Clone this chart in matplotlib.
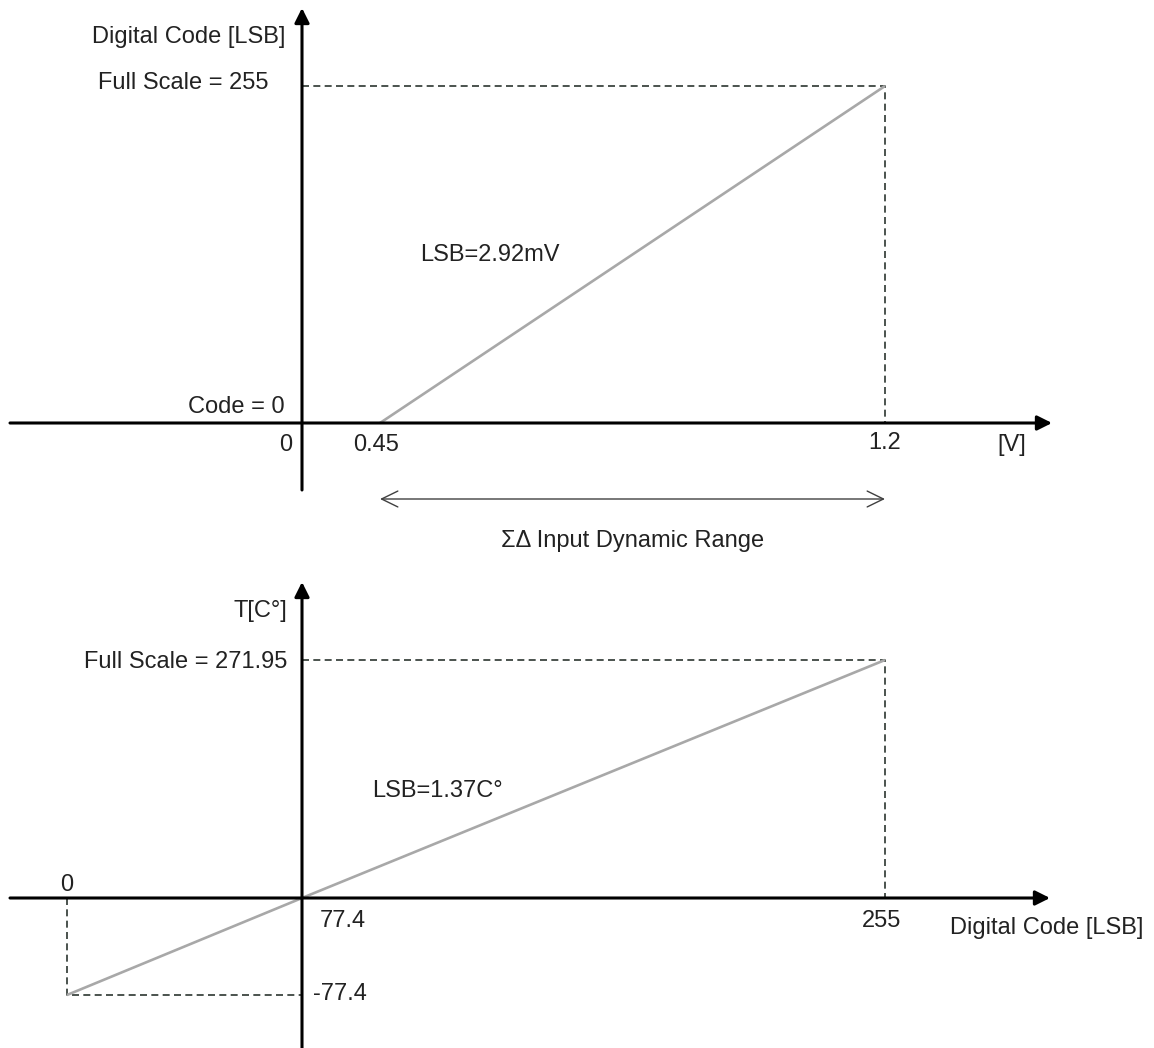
import numpy as np
import matplotlib
matplotlib.use('Agg')
import matplotlib.pyplot as plt
from matplotlib import transforms

plt.rcParams['font.family'] = ['Liberation Sans', 'DejaVu Sans']

W, H = 1154, 1048

# top: sigma-delta ADC transfer, volts -> code
adc_volts = [0.45, 1.2]
adc_codes = [0, 255]
adc_lsb_mv = 2.92

# bottom: code -> temperature
tc_codes = [0, 255]
tc_temps = [-77.4, 271.95]
tc_lsb = 1.37


def piecewise(vals, pos):
    """ piecewise linear map (sketch is not drawn to scale) """
    vals = np.asarray(vals, float)
    pos = np.asarray(pos, float)

    def make(a, b):
        def f(v):
            v = np.asarray(v, float)
            lo = b[0] + (v - a[0]) * (b[1] - b[0]) / (a[1] - a[0])
            hi = b[-1] + (v - a[-1]) * (b[-1] - b[-2]) / (a[-1] - a[-2])
            return np.where(v < a[0], lo, np.where(v > a[-1], hi, np.interp(v, a, b)))
        return f
    return make(vals, pos), make(pos, vals)


def setup(ax, xvals, xpix, yvals, ypix):
    fx, ix = piecewise(xvals, xpix)
    fy, iy = piecewise(yvals, [H - p for p in ypix])
    ax.set_xscale('function', functions=(fx, ix))
    ax.set_yscale('function', functions=(fy, iy))
    ax.set_xlim(float(ix(0)), float(ix(W)))
    ax.set_ylim(float(iy(0)), float(iy(H)))
    ax.axis('off')


AXIS_ARROW = dict(arrowstyle='-|>,head_length=0.4,head_width=0.2',
                  mutation_scale=22, lw=2.2, color='black',
                  shrinkA=0, shrinkB=0)
DASH = dict(color='#2c3630', lw=1.2, dashes=(4.2, 2.6))
LINE = dict(color='#a8a8a8', lw=1.9, solid_capstyle='butt')
FS = 17
TXT = dict(fontsize=FS, color='#222222', textcoords='offset pixels',
           va='baseline')


def axes_arrows(ax, x0, y0, hx, vy):
    hb = transforms.blended_transform_factory(ax.transAxes, ax.transData)
    vb = transforms.blended_transform_factory(ax.transData, ax.transAxes)
    ax.annotate('', xy=(hx[1] / W, y0), xytext=(hx[0] / W, y0),
                xycoords=hb, textcoords=hb, arrowprops=AXIS_ARROW)
    ax.annotate('', xy=(x0, 1 - vy[1] / H), xytext=(x0, 1 - vy[0] / H),
                xycoords=vb, textcoords=vb, arrowprops=AXIS_ARROW)


fig = plt.figure(figsize=(W / 100, H / 100), dpi=100)

# ---------------- top panel ----------------
ax1 = fig.add_axes([0, 0, 1, 1], facecolor='none')
setup(ax1, [0, adc_volts[0], adc_volts[1]], [302, 380, 885],
      [0, adc_codes[1]], [423, 86])

ax1.plot([0, adc_volts[1], adc_volts[1]], [adc_codes[1], adc_codes[1], 0], **DASH)
ax1.plot(adc_volts, adc_codes, **LINE)
axes_arrows(ax1, 0, 0, (10, 1052), (490, 8))

vmax, cmax = adc_volts[1], adc_codes[1]
ax1.annotate('Digital Code [LSB]', (0, cmax), (-17, 43), ha='right', **TXT)
ax1.annotate(f'Full Scale = {cmax}', (0, cmax), (-34, -3), ha='right', **TXT)
ax1.annotate('Code = 0', (0, 0), (-17, 10), ha='right', **TXT)
ax1.annotate('0', (0, 0), (-10, -28), ha='right', **TXT)
ax1.annotate(f'{adc_volts[0]}', (adc_volts[0], 0), (-4, -28), ha='center', **TXT)
ax1.annotate(f'{vmax}', (vmax, 0), (0, -26), ha='center', **TXT)
ax1.annotate('[V]', (vmax, 0), (127, -28), ha='center', **TXT)
ax1.annotate(f'LSB={adc_lsb_mv}mV', (adc_volts[0], 0), (40, 162), ha='left', **TXT)

# dynamic range double arrow below the axis
low = transforms.offset_copy(ax1.transData, fig=fig, x=0, y=-76, units='dots')
ax1.annotate('', xy=(vmax, 0), xytext=(adc_volts[0], 0), xycoords=low,
             textcoords=low,
             arrowprops=dict(arrowstyle='<->,head_length=0.45,head_width=0.22',
                             mutation_scale=26, lw=1.0, color='#404040',
                             shrinkA=0, shrinkB=0))
ends = ax1.transData.transform([(adc_volts[0], 0), (vmax, 0)])
fig.text(ends[:, 0].mean() / W, 1 - 547 / H, '\u03a3\u0394 Input Dynamic Range',
         ha='center', va='baseline', fontsize=FS, color='#222222')

# ---------------- bottom panel ----------------
c0 = -tc_temps[0] / tc_lsb  # code at 0 C
ax2 = fig.add_axes([0, 0, 1, 1], facecolor='none')
setup(ax2, [tc_codes[0], c0, tc_codes[1]], [67, 302, 885],
      [tc_temps[0], 0, tc_temps[1]], [995, 898, 660])

tmin, tmax = tc_temps
ax2.plot([c0, tc_codes[1], tc_codes[1]], [tmax, tmax, 0], **DASH)
ax2.plot([tc_codes[0], tc_codes[0], c0], [0, tmin, tmin], **DASH)
ax2.plot([tc_codes[0], c0, tc_codes[1]], [tmin, 0, tmax], **LINE)
axes_arrows(ax2, c0, 0, (10, 1050), (1048, 582))

ax2.annotate('T[C\u00b0]', (c0, tmax), (-15, 43), ha='right', **TXT)
ax2.annotate(f'Full Scale = {tmax}', (c0, tmax), (-15, -8), ha='right', **TXT)
ax2.annotate(f'LSB={tc_lsb}C\u00b0', (c0, 0), (70, 101), ha='left', **TXT)
ax2.annotate(f'{tc_codes[0]}', (tc_codes[0], 0), (0, 7), ha='center', **TXT)
ax2.annotate(f'{-tmin}', (c0, 0), (18, -29), ha='left', **TXT)
ax2.annotate(f'{tmin}', (c0, tmin), (11, -5), ha='left', **TXT)
ax2.annotate(f'{tc_codes[1]}', (tc_codes[1], 0), (-3, -29), ha='center', **TXT)
ax2.annotate('Digital Code [LSB]', (tc_codes[1], 0), (258, -36), ha='right', **TXT)

fig.savefig('out.png', dpi=100, facecolor='white')
